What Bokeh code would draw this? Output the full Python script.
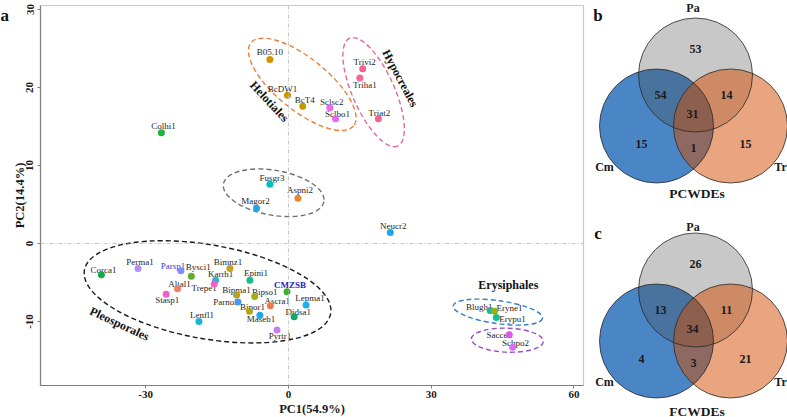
from bokeh.plotting import figure
from bokeh.models import Range1d, FixedTicker, Span, ColumnDataSource
from bokeh.layouts import row, column
from bokeh.core.properties import value
from bokeh.embed import file_html
from bokeh.resources import INLINE

SERIF = "Liberation Serif"

# ---------------- data : PCA of genomes ----------------
names = ["B05.10", "BcDW1", "BcT4", "Sclsc2", "Sclbo1", "Trivi2", "Triha1", "Triat2",
         "Colhi1", "Fusgr3", "Aspni2", "Magor2", "Neucr2", "Corca1", "Perma1", "Parsp1",
         "Bysci1", "Bimnz1", "Karrh1", "Trepe1", "Epini1", "Altal1", "Stasp1", "Bipma1",
         "Bipso1", "Parno2", "CMZSB", "Ascra1", "Bipor1", "Maseb1", "Lenfl1", "Pyrtr1",
         "Didsa1", "Lepma1", "Blugh1", "Eryne1", "Erypu1", "Sacce2", "Schpo2"]
pc1 = [-3.9, -0.2, 3.0, 8.7, 9.9, 15.6, 15.0, 18.9,
       -26.7, -3.9, 2.0, -6.7, 21.4, -39.3, -31.6, -22.6,
       -20.4, -12.3, -15.3, -15.6, -8.1, -23.3, -25.7, -10.9,
       -7.1, -10.6, -0.3, -3.8, -8.2, -6.0, -18.8, -2.4,
       1.2, 3.7, 42.4, 43.3, 43.7, 46.4, 47.1]
pc2 = [23.6, 19.0, 17.6, 17.4, 16.0, 22.4, 21.2, 16.0,
       14.2, 7.6, 5.8, 4.5, 1.4, -4.0, -3.2, -3.5,
       -4.2, -3.2, -4.7, -5.2, -4.7, -5.8, -6.5, -6.6,
       -6.8, -7.5, -6.2, -8.0, -8.7, -9.2, -10.0, -11.1,
       -9.4, -7.9, -8.6, -8.7, -9.5, -11.7, -13.3]
point_colors = ["#D39200", "#CF9400", "#C49A00", "#EC69EF", "#E964F0", "#F0668E", "#F26A8D", "#F2648E",
                "#1DB43F", "#00BFB8", "#E58A2C", "#1FA8E8", "#1FA6EA", "#17A848", "#B48CF5", "#7F8EF8",
                "#5DB02A", "#C3A022", "#2DB2D8", "#F25FC0", "#13BE8B", "#F07C6A", "#F35FC6", "#B3A21C",
                "#A5AC1E", "#4C98F2", "#3AAE2A", "#EC7A4A", "#B0A51E", "#1FA5F5", "#19B6D4", "#C37EF2",
                "#12A764", "#21AEEA", "#17B6A0", "#9EAE10", "#13BE94", "#D65CE6", "#DB6FEE"]
label_colors = ["#262626"] * len(names)
label_colors[names.index("Parsp1")] = "#3A3AE0"
label_colors[names.index("CMZSB")] = "#2222CC"
label_styles = ["normal"] * len(names)
label_styles[names.index("CMZSB")] = "bold"
# label offsets in screen pixels (dx, dy down)
label_dx = [0, -5, 2, 2, 2, 2, 5, 1,
            2, 2, 2, -1, 3, 2, 2, -8,
            7, -2, 5, -10, 6, 2, 1, 0,
            10, -12, 3, 7, 3, 1, 3, 3,
            4, 4, -11, 15, 16, -10, 3]
label_dy = [-7, -6, -6, -6, -5, -7, 7, -6,
            -7, -6, -8, -7, -7, -5, -6, -5,
            -9, -6, -6, 4, -7, -5, 6, -5,
            -5, 0, -7, -5, -4, 4, -6, 6,
            -5, -7, -4, -3, 1, 0, -4]

x_tick_vals = [-30, 0, 30, 60]
x_tick_labels = ["-30", "0", "30", "60"]
y_tick_vals = [-10, 0, 10, 20, 30]
y_tick_labels = ["-10", "0", "10", "20", "30"]
x_title = "PC1(54.9%)"
y_title = "PC2(14.4%)"

# order ellipses (center in data units, semi-axes in screen px, angle deg)
ell_x = [2.9, 17.9, -3.1, -17.0, 44.0, 46.0]
ell_y = [20.4, 19.4, 6.5, -6.2, -8.8, -12.4]
ell_a = [66, 59, 51, 125, 45, 36]
ell_b = [26, 21, 22.5, 47, 11.5, 12]
ell_angle = [-39, -66, -10, -10, -8, -2]
ell_color = ["#E8803A", "#E36B9C", "#707070", "#1A1A1A", "#3682BE", "#9B4FC6"]

group_names = ["Helotiales", "Hypocreales", "Pleosporales", "Erysiphales"]
group_x = [-4.0, 23.5, -35.5, 46.2]
group_y = [18.2, 21.2, -10.3, -5.3]
group_angle = [-47, -62, -25, 0]


def blank(w, h):
    f = figure(width=w, height=h, x_range=Range1d(0, w), y_range=Range1d(h, 0),
               output_backend="svg", toolbar_location=None, min_border=0,
               x_axis_location=None, y_axis_location=None)
    f.xgrid.visible = False
    f.ygrid.visible = False
    f.outline_line_color = None
    return f


# ---------------- scatter ----------------
p = figure(width=581, height=403, x_range=Range1d(-52.1, 62.0), y_range=Range1d(-18.21, 30.51),
           output_backend="svg", toolbar_location=None,
           min_border_left=31, min_border_right=7, min_border_top=5, min_border_bottom=18)
p.xgrid.visible = False
p.ygrid.visible = False
p.outline_line_color = "#C8C8C8"
p.outline_line_width = 1.2
p.background_fill_color = "white"

for ax in (p.xaxis[0], p.yaxis[0]):
    ax.axis_line_color = "#7F7F7F"
    ax.axis_line_width = 1.2
    ax.major_tick_line_color = "#7F7F7F"
    ax.major_tick_out = 3
    ax.major_tick_in = 0
    ax.minor_tick_out = 0
    ax.minor_tick_in = 0
    ax.major_label_text_font = SERIF
    ax.major_label_text_font_style = "bold"
    ax.major_label_text_font_size = "11px"
    ax.major_label_text_color = "#1A1A1A"
p.xaxis.major_label_standoff = 2
p.yaxis.major_label_standoff = 4
p.xaxis.ticker = FixedTicker(ticks=x_tick_vals)
p.xaxis.major_label_overrides = dict(zip(x_tick_vals, x_tick_labels))
p.yaxis.ticker = FixedTicker(ticks=y_tick_vals)
p.yaxis.major_label_overrides = dict(zip(y_tick_vals, y_tick_labels))
p.yaxis.major_label_orientation = "vertical"
p.yaxis.axis_label = y_title
p.yaxis.axis_label_standoff = -3
p.yaxis.axis_label_text_font = SERIF
p.yaxis.axis_label_text_font_style = "bold"
p.yaxis.axis_label_text_font_size = "12.5px"
p.yaxis.axis_label_text_color = "#1A1A1A"

for dim in ("width", "height"):
    p.add_layout(Span(location=0, dimension=dim, line_color="#C4C4C4",
                      line_dash="4 2 1 2", line_width=1))

p.ellipse(x=ell_x, y=ell_y, width=[2 * a for a in ell_a], height=[2 * b for b in ell_b],
          width_units="screen", height_units="screen",
          angle=ell_angle, angle_units="deg", fill_color=None,
          line_color=ell_color, line_dash="5 3", line_width=1.4)

src = ColumnDataSource(dict(x=pc1, y=pc2, name=names, c=point_colors, lc=label_colors,
                            ls=label_styles, dx=label_dx, dy=label_dy))
p.text(x="x", y="y", text="name", source=src, x_offset="dx", y_offset="dy",
       text_align="center", text_baseline="middle", text_font=value(SERIF),
       text_font_size="9px", text_color="lc", text_font_style="ls")
p.scatter(x="x", y="y", source=src, size=7, fill_color="c", line_color=None)

p.text(x=group_x, y=group_y, text=group_names, angle=group_angle, angle_units="deg",
       text_align="center", text_baseline="middle", text_font=value(SERIF),
       text_font_size="12px", text_font_style="bold", text_color="#111111")

# left strip: panel letter
left = blank(9, 417)
left.text(x=[0], y=[15], text=["a"], text_align="left", text_baseline="middle",
          text_font=value(SERIF), text_font_size="17px", text_font_style="bold",
          text_color="#111111")

# bottom strip: x title
bottom = blank(581, 14)
bottom.text(x=[290.5], y=[5], text=[x_title], text_align="center", text_baseline="middle",
            text_font=value(SERIF), text_font_size="12.5px", text_font_style="bold",
            text_color="#1A1A1A")

# ---------------- Venn diagrams ----------------
set_names = ["Pa", "Cm", "Tr"]
pcwde_counts = [53, 54, 14, 31, 15, 1, 15]   # Pa, Pa&Cm, Pa&Tr, all, Cm, Cm&Tr, Tr
fcwde_counts = [26, 13, 11, 34, 4, 3, 21]

v = blank(197, 417)

region_dx = [0, -35, 31, -3, -54, -2, 50]
region_dy = [-26, 20, 20, 39, 69, 73, 69]

for oy, counts, title, letter, name_y, title_y, letter_y in (
        (74.5, pcwde_counts, "PCWDEs", "b", 7, 192.5, 15),
        (289.5, fcwde_counts, "FCWDEs", "c", 226, 410.5, 232.5)):
    cx = [105, 66, 140]
    cy = [oy, oy + 51, oy + 51]
    # Cm (opaque), Pa (alpha), Tr (alpha)
    v.circle(x=[cx[1]], y=[cy[1]], radius=57, fill_color="#4A86C5", fill_alpha=1.0, line_color=None)
    v.circle(x=[cx[0]], y=[cy[0]], radius=57, fill_color="#484848", fill_alpha=0.3, line_color=None)
    v.circle(x=[cx[2]], y=[cy[2]], radius=57, fill_color="#D14B00", fill_alpha=0.5, line_color=None)
    v.circle(x=cx, y=cy, radius=57, fill_color=None, line_color="#2A2A2A", line_width=0.8)
    v.text(x=[cx[0] + d for d in region_dx], y=[oy + d for d in region_dy],
           text=[str(c) for c in counts], text_align="center", text_baseline="middle",
           text_font=value(SERIF), text_font_size="12px", text_font_style="bold",
           text_color="#1A1A1A")
    v.text(x=[102.5, 14, 190], y=[name_y, oy + 92, oy + 92], text=set_names,
           text_align="center", text_baseline="middle", text_font=value(SERIF),
           text_font_size="12px", text_font_style="bold", text_color="#1A1A1A")
    v.text(x=[106.5], y=[title_y], text=[title],
           text_align="center", text_baseline="middle", text_font=value(SERIF),
           text_font_size="13.5px", text_font_style="bold", text_color="#1A1A1A")
    v.text(x=[7.5], y=[letter_y], text=[letter],
           text_align="center", text_baseline="middle", text_font=value(SERIF),
           text_font_size="17px", text_font_style="bold", text_color="#111111")

layout = row(left, column(p, bottom), v)
open("out.html", "w").write(file_html(layout, INLINE))
